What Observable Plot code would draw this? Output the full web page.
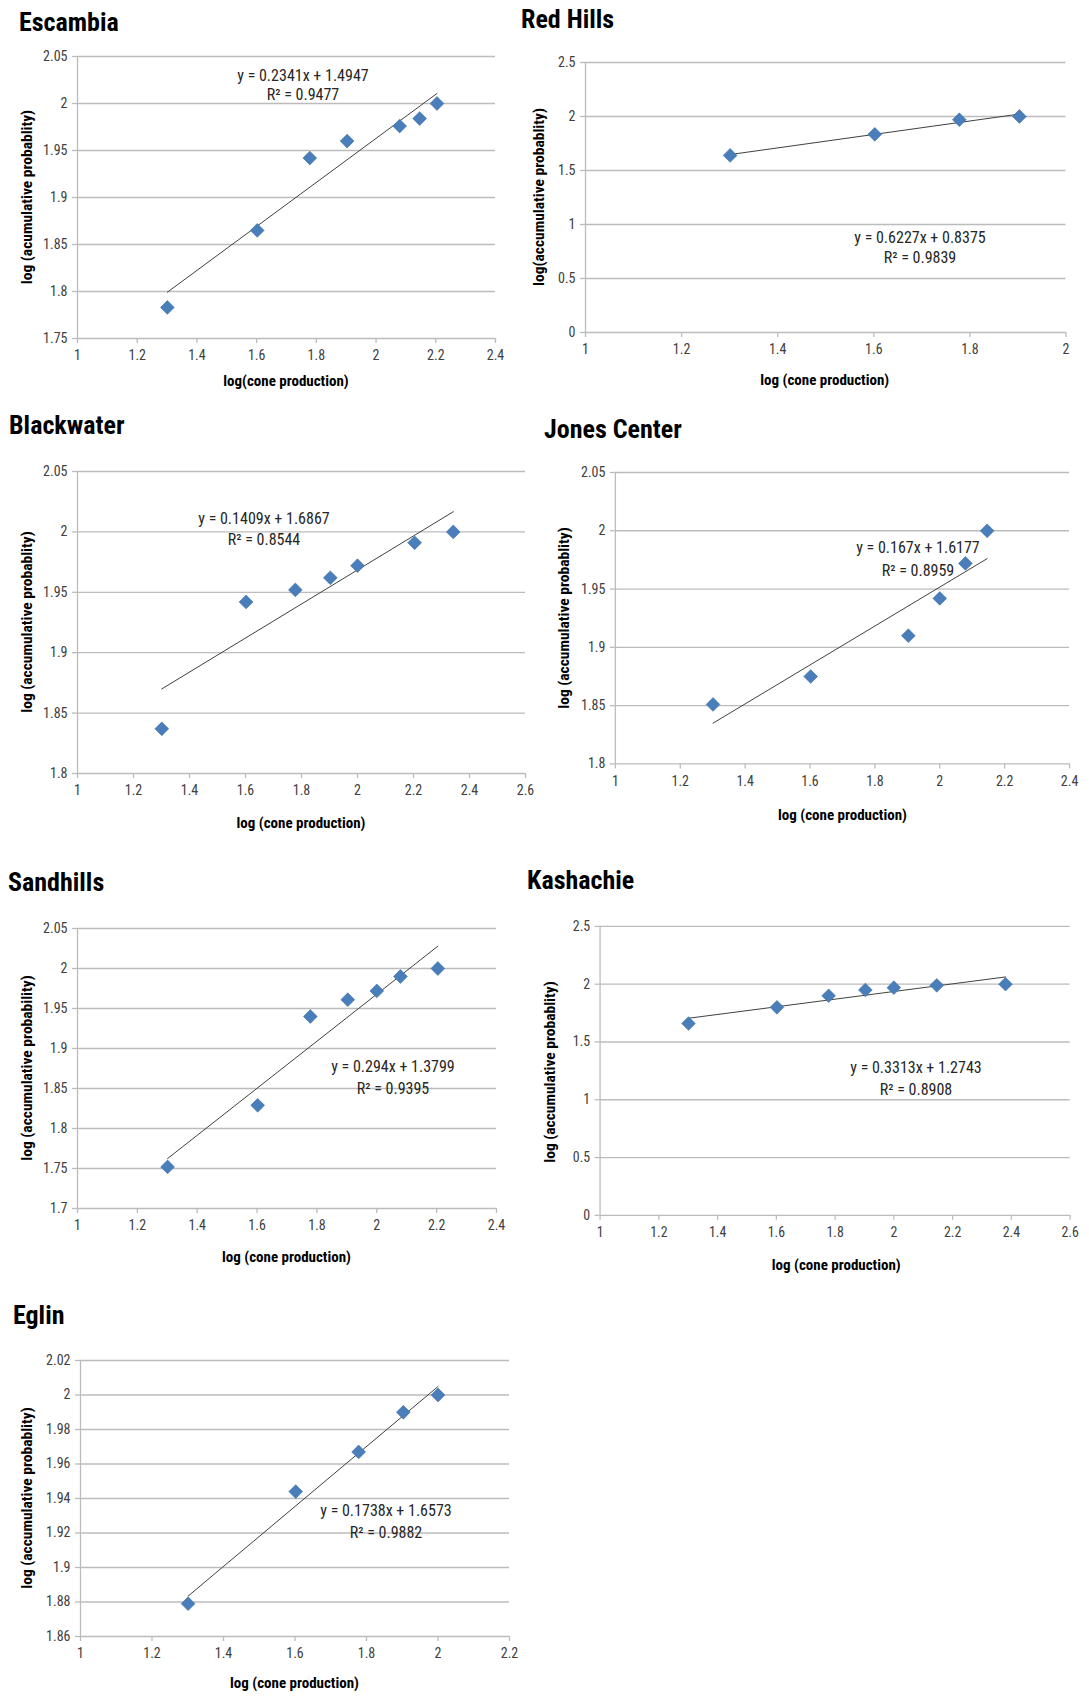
<!DOCTYPE html>
<html><head><meta charset="utf-8">
<script src="https://cdn.jsdelivr.net/npm/d3@7"></script>
<script src="https://cdn.jsdelivr.net/npm/@observablehq/plot@0.6"></script>
<style>
body{margin:0;background:#fff;}
#root{position:relative;width:1089px;height:1698px;overflow:hidden;font-family:"Liberation Sans Narrow","Arial Narrow","Roboto Condensed","Liberation Sans",sans-serif;background:#fff;}
.title{position:absolute;font-weight:bold;font-size:26px;line-height:26px;color:#000;white-space:nowrap;transform:translateY(-50%);}
.xl{position:absolute;font-weight:bold;font-size:15px;color:#000;white-space:nowrap;transform:translate(-50%,-50%);}
.yl{position:absolute;font-weight:bold;font-size:15.5px;color:#000;white-space:nowrap;transform:translate(-50%,-50%) rotate(-90deg);}
.eq{position:absolute;font-size:16px;color:#262626;white-space:nowrap;transform:translate(-50%,-50%);}
.pl{position:absolute;}
.pl svg{overflow:visible;}
</style>
</head><body><div id="root"></div>
<script>
// ---- data ----
const sites = ["Escambia","Red Hills","Blackwater","Jones Center","Sandhills","Kashachie","Eglin"];

const escambiaX   = [1.301,1.602,1.778,1.903,2.079,2.146,2.204];
const escambiaY   = [1.783,1.865,1.942,1.960,1.976,1.984,2.000];
const redHillsX   = [1.301,1.602,1.778,1.903];
const redHillsY   = [1.640,1.835,1.970,2.000];
const blackwaterX = [1.301,1.602,1.778,1.903,2.000,2.204,2.342];
const blackwaterY = [1.837,1.942,1.952,1.962,1.972,1.991,2.000];
const jonesX      = [1.301,1.602,1.903,2.000,2.079,2.146];
const jonesY      = [1.851,1.875,1.910,1.942,1.972,2.000];
const sandhillsX  = [1.301,1.602,1.778,1.903,2.000,2.079,2.204];
const sandhillsY  = [1.752,1.829,1.940,1.961,1.972,1.990,2.000];
const kashachieX  = [1.301,1.602,1.778,1.903,2.000,2.146,2.380];
const kashachieY  = [1.660,1.800,1.900,1.950,1.970,1.990,2.000];
const eglinX      = [1.301,1.602,1.778,1.903,2.000];
const eglinY      = [1.879,1.944,1.967,1.990,2.000];

const slopes     = [0.2341,0.6227,0.1409,0.167,0.294,0.3313,0.1738];
const intercepts = [1.4947,0.8375,1.6867,1.6177,1.3799,1.2743,1.6573];
const slopeText  = ["0.2341","0.6227","0.1409","0.167","0.294","0.3313","0.1738"];
const interText  = ["1.4947","0.8375","1.6867","1.6177","1.3799","1.2743","1.6573"];
const r2Text     = ["0.9477","0.9839","0.8544","0.8959","0.9395","0.8908","0.9882"];

const xTicks24 = [1,1.2,1.4,1.6,1.8,2,2.2,2.4];
const xTicks20 = [1,1.2,1.4,1.6,1.8,2];
const xTicks26 = [1,1.2,1.4,1.6,1.8,2,2.2,2.4,2.6];
const xTicks22 = [1,1.2,1.4,1.6,1.8,2,2.2];
const yTicks175 = [1.75,1.8,1.85,1.9,1.95,2,2.05];
const yTicks0   = [0,0.5,1,1.5,2,2.5];
const yTicks180 = [1.8,1.85,1.9,1.95,2,2.05];
const yTicks170 = [1.7,1.75,1.8,1.85,1.9,1.95,2,2.05];
const yTicks186 = [1.86,1.88,1.9,1.92,1.94,1.96,1.98,2,2.02];

const yLabels = ["log (acumulative probablity)","log(accumulative probablity)","log (accumulative probablity)",
  "log (accumulative probablity)","log (accumulative probability)","log (accumulative probablity)","log (accumulative probablity)"];
const xLabels = ["log(cone production)","log (cone production)","log (cone production)","log (cone production)",
  "log (cone production)","log (cone production)","log (cone production)"];

const seriesX = [escambiaX,redHillsX,blackwaterX,jonesX,sandhillsX,kashachieX,eglinX];
const seriesY = [escambiaY,redHillsY,blackwaterY,jonesY,sandhillsY,kashachieY,eglinY];
const xTickSets = [xTicks24,xTicks20,xTicks26,xTicks24,xTicks24,xTicks26,xTicks22];
const yTickSets = [yTicks175,yTicks0,yTicks180,yTicks180,yTicks170,yTicks0,yTicks186];

// ---- layout (pixels) ----
const layout = [
  {l:77,  r:495,  t:56,  b:338,  tx:19,  ty:22,  ylx:27,  xly:381,  ex:303, ey1:75,   ey2:94},
  {l:584.5,r:1065,t:62,  b:332,  tx:521, ty:19,  ylx:539, xly:380,  ex:920, ey1:236.5,ey2:256.5},
  {l:77,  r:525,  t:471, b:773,  tx:9,   ty:425, ylx:27,  xly:823,  ex:264, ey1:518,  ey2:539},
  {l:615, r:1070, t:472, b:764,  tx:544, ty:429, ylx:564, xly:815,  ex:918, ey1:547,  ey2:570},
  {l:77,  r:496,  t:928, b:1208, tx:8,   ty:882, ylx:27,  xly:1257, ex:393, ey1:1066, ey2:1088},
  {l:599.5,r:1073,t:926, b:1217, tx:527, ty:880, ylx:550, xly:1265, ex:916, ey1:1067, ey2:1089},
  {l:80,  r:509,  t:1360,b:1636, tx:13,  ty:1315,ylx:27,  xly:1683, ex:386, ey1:1510, ey2:1532}
];

const root = document.getElementById("root");
const mL = 60, mR = 20, mT = 10, mB = 40;
const gridColor = "#bcbcbc";
const fmt = d => String(+d.toFixed(2));

sites.forEach((name, i) => {
  const L = layout[i];
  const xs = seriesX[i], ys = seriesY[i];
  const pts = xs.map((x, j) => ({x, y: ys[j]}));
  const xExt = d3.extent(xs);
  const trend = xExt.map(x => ({x, y: slopes[i] * x + intercepts[i]}));
  const xt = xTickSets[i], yt = yTickSets[i];
  const xDom = d3.extent(xt), yDom = d3.extent(yt);

  const chart = Plot.plot({
    width: (L.r - L.l) + mL + mR,
    height: (L.b - L.t) + mT + mB,
    marginLeft: mL, marginRight: mR, marginTop: mT, marginBottom: mB,
    x: {domain: xDom},
    y: {domain: yDom},
    style: {fontFamily: '"Liberation Sans Narrow","Arial Narrow","Roboto Condensed","Liberation Sans",sans-serif', fontSize: "14px", background: "transparent", overflow: "visible"},
    marks: [
      Plot.gridY(yt, {stroke: gridColor, strokeOpacity: 1, strokeWidth: 1.3}),
      Plot.ruleX([xDom[0]], {stroke: gridColor, strokeWidth: 1.3}),
      Plot.axisY(yt, {tickSize: 5, tickPadding: 5, stroke: gridColor, strokeWidth: 1.3, fill: "#404040", tickFormat: fmt, label: null, fontSize: 14}),
      Plot.axisX(xt, {tickSize: 5, tickPadding: 7, stroke: gridColor, strokeWidth: 1.3, fill: "#404040", tickFormat: fmt, label: null, fontSize: 14}),
      Plot.line(trend, {x: "x", y: "y", stroke: "#404040", strokeWidth: 1}),
      Plot.dot(pts, {x: "x", y: "y", symbol: "diamond2", r: 6.2, fill: "#4a7ebb", stroke: "#3c6ca6", strokeWidth: 0.6})
    ]
  });
  const wrap = document.createElement("div");
  wrap.className = "pl";
  wrap.style.left = (L.l - mL) + "px";
  wrap.style.top = (L.t - mT) + "px";
  wrap.appendChild(chart);
  root.appendChild(wrap);

  const add = (cls, text, x, y) => {
    const d = document.createElement("div");
    d.className = cls; d.textContent = text;
    d.style.left = x + "px"; d.style.top = y + "px";
    root.appendChild(d);
  };
  add("title", name, L.tx, L.ty);
  add("xl", xLabels[i], (L.l + L.r) / 2, L.xly);
  add("yl", yLabels[i], L.ylx, (L.t + L.b) / 2);
  add("eq", "y = " + slopeText[i] + "x + " + interText[i], L.ex, L.ey1);
  add("eq", "R\u00B2 = " + r2Text[i], L.ex, L.ey2);
});
</script>
</body></html>
